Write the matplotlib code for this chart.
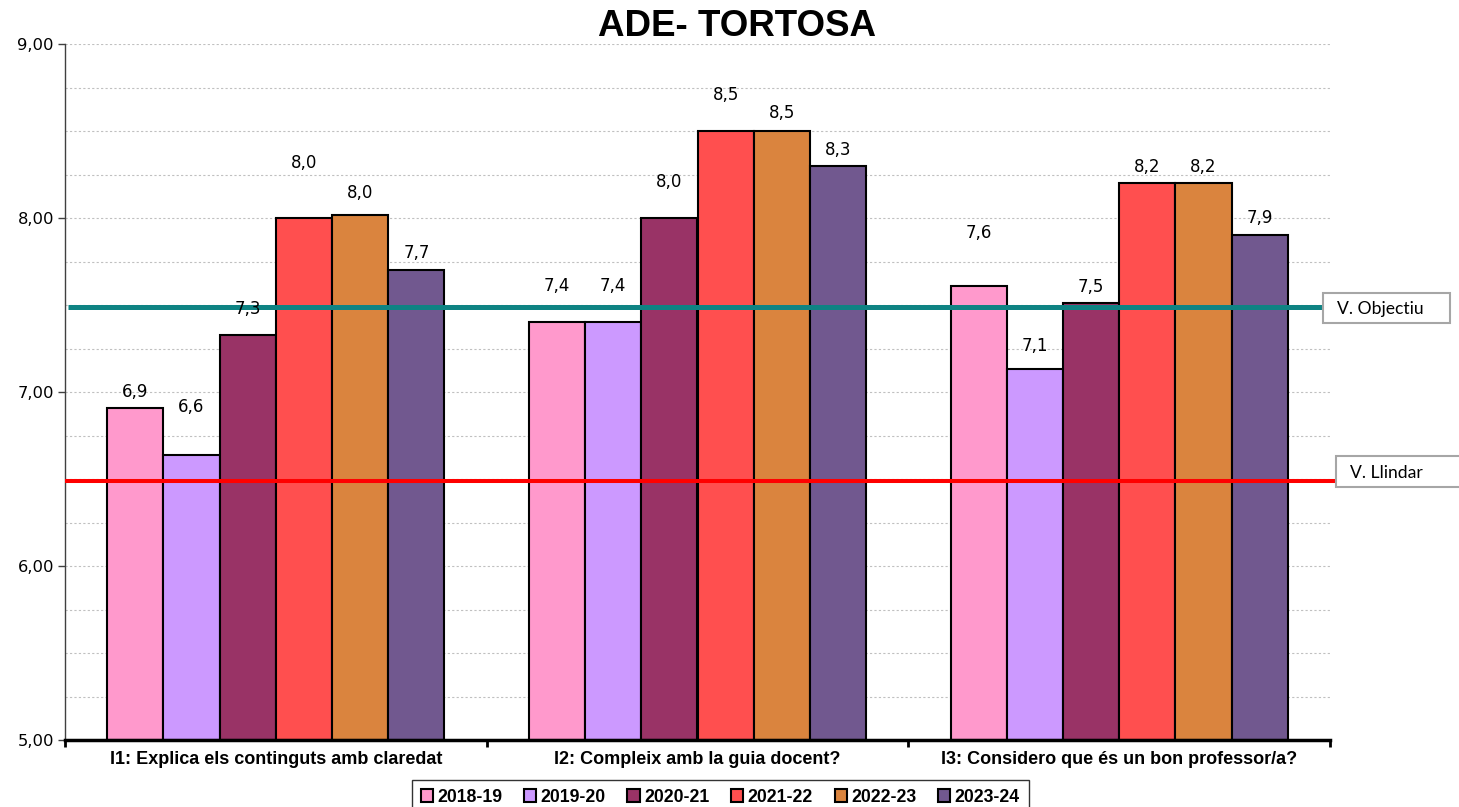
import matplotlib
matplotlib.use('Agg')
import matplotlib.pyplot as plt
import matplotlib.patches as mpatches
import numpy as np
from matplotlib.ticker import FuncFormatter, FixedLocator, MultipleLocator

# ---------------- data ----------------
categories = ["I1: Explica els continguts amb claredat",
              "I2: Compleix amb la guia docent?",
              "I3: Considero que és un bon professor/a?"]
series_names = ["2018-19", "2019-20", "2020-21", "2021-22", "2022-23", "2023-24"]
v2018_19 = [6.91, 7.40, 7.61]
v2019_20 = [6.64, 7.40, 7.13]
v2020_21 = [7.33, 8.00, 7.51]
v2021_22 = [8.00, 8.50, 8.20]
v2022_23 = [8.02, 8.50, 8.20]
v2023_24 = [7.70, 8.30, 7.90]
v_objectiu = 7.49
v_llindar = 6.49
y_ticks = [5, 6, 7, 8, 9]

# ---------------- style / layout ----------------
colors = ["#FF99CC", "#CC99FF", "#993366", "#FF4F4F", "#DA843E", "#71588F"]
# label gap above each bar (pixels), per series, per category
label_gap_px = [[16, 36, 53],
                [48, 36, 23],
                [26, 36, 16],
                [55, 36, 16],
                [22, 18, 16],
                [17, 16, 17]]

series = [v2018_19, v2019_20, v2020_21, v2021_22, v2022_23, v2023_24]

W, H = 1459, 807
fig = plt.figure(figsize=(W / 100, H / 100), dpi=100)
ax = fig.add_axes([65 / W, (H - 740) / H, 1265 / W, 696 / H])

n = len(series)
group_w = 0.8
bw = group_w / n
x = np.arange(len(categories))

for i, vals in enumerate(series):
    xs = x - group_w / 2 + bw * (i + 0.5)
    ax.bar(xs, np.array(vals) - 5, bottom=5, width=bw, color=colors[i],
           edgecolor='black', linewidth=1.5, label=series_names[i], zorder=2)
    for j, (xx, v) in enumerate(zip(xs, vals)):
        ax.annotate(f"{v:.1f}".replace('.', ','), xy=(xx, v),
                    xytext=(0, label_gap_px[i][j] * 0.72), textcoords='offset points',
                    ha='center', va='center', fontsize=12, family='DejaVu Sans',
                    zorder=4)

ax.set_xlim(-0.5, 2.5)
ax.set_ylim(5, 9)

# target lines
ax.plot([-0.493, 2.485], [v_objectiu, v_objectiu], color='#0E8383', lw=3.6,
        clip_on=False, zorder=3, solid_capstyle='butt')
ax.plot([-0.5, 2.515], [v_llindar, v_llindar], color='#FF0000', lw=2.9,
        clip_on=False, zorder=3, solid_capstyle='butt')

# y axis
ax.yaxis.set_major_locator(FixedLocator(y_ticks))
ax.yaxis.set_minor_locator(MultipleLocator(0.25))
ax.yaxis.set_major_formatter(FuncFormatter(lambda v, p: f"{v:.2f}".replace('.', ',')))
ax.tick_params(axis='y', which='major', length=5, width=1, pad=3, labelsize=11.8,
               color='#404040')
ax.tick_params(axis='y', which='minor', length=0)
for lab in ax.get_yticklabels():
    lab.set_family('DejaVu Sans')
ax.grid(axis='y', which='both', linestyle=(0, (2, 2)), color='#C0C0C0', lw=0.8)
ax.set_axisbelow(True)

# x axis: ticks at boundaries, labels at centers
ax.xaxis.set_major_locator(FixedLocator([-0.5, 0.5, 1.5, 2.5]))
ax.xaxis.set_major_formatter(FuncFormatter(lambda v, p: ""))
ax.xaxis.set_minor_locator(FixedLocator(list(x)))
ax.set_xticklabels(categories, minor=True)
ax.tick_params(axis='x', which='major', length=5, width=2, direction='out')
ax.tick_params(axis='x', which='minor', length=0, pad=8, labelsize=13)
for lab in ax.get_xticklabels(minor=True):
    lab.set_fontweight('bold')
    lab.set_family('Liberation Sans')

ax.spines['top'].set_visible(False)
ax.spines['right'].set_visible(False)
ax.spines['left'].set_color('#404040')
ax.spines['left'].set_linewidth(1)
ax.spines['bottom'].set_linewidth(2.5)

# title
fig.text(737 / W, 1 - 26 / H, "ADE- TORTOSA", ha='center', va='center',
         fontsize=26.5, fontweight='bold', family='Liberation Sans')

# text boxes for lines
fig.patches.append(mpatches.Rectangle((1323 / W, 1 - 323 / H), 127 / W, 30 / H,
                                      transform=fig.transFigure, facecolor='white',
                                      edgecolor='#A6A6A6', lw=1.5, zorder=5))
fig.text(1337 / W, 1 - 309 / H, "V. Objectiu", ha='left', va='center', fontsize=12.6,
         family='Lato', zorder=6)
fig.patches.append(mpatches.Rectangle((1336 / W, 1 - 487 / H), 140 / W, 31 / H,
                                      transform=fig.transFigure, facecolor='white',
                                      edgecolor='#A6A6A6', lw=1.5, zorder=5))
fig.text(1350 / W, 1 - 473 / H, "V. Llindar", ha='left', va='center', fontsize=12.6,
         family='Lato', zorder=6)

# legend
leg = fig.legend(loc='upper left', bbox_to_anchor=(412 / W, 1 - 780 / H), ncol=6,
                 frameon=True, fancybox=False, borderaxespad=0,
                 prop={'family': 'Liberation Sans', 'weight': 'bold', 'size': 12.7},
                 handlelength=0.7, handleheight=0.7, handletextpad=0.25,
                 columnspacing=1.22, borderpad=0.5)
leg.get_frame().set_edgecolor('black')
leg.get_frame().set_linewidth(1)
for h in leg.legend_handles:
    h.set_linewidth(1.5)

fig.savefig('out.png', dpi=100)
